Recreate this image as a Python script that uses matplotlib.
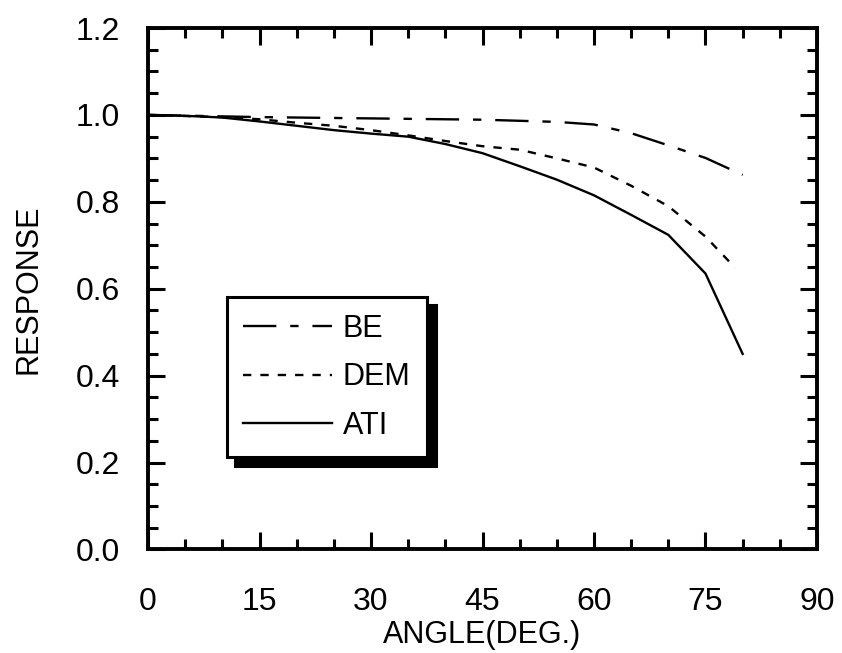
import matplotlib
matplotlib.use("Agg")
from matplotlib import pyplot as plt
from matplotlib.ticker import MultipleLocator

# Data
angle_be = [0, 15, 30, 45, 55, 60, 65, 70, 75, 80]
resp_be = [1.0, 0.995, 0.992, 0.989, 0.984, 0.978, 0.958, 0.930, 0.901, 0.862]

angle_dem = [0, 10, 15, 20, 25, 30, 35, 40, 45, 50, 55, 60, 65, 70, 75, 79]
resp_dem = [1.0, 0.995, 0.990, 0.982, 0.975, 0.965, 0.953, 0.940, 0.928, 0.920,
            0.900, 0.879, 0.837, 0.790, 0.720, 0.648]

angle_ati = [0, 5, 10, 15, 20, 25, 30, 35, 40, 45, 50, 55, 60, 65, 70, 75, 80]
resp_ati = [1.0, 0.998, 0.994, 0.985, 0.975, 0.965, 0.957, 0.950, 0.933, 0.912,
            0.882, 0.851, 0.815, 0.770, 0.724, 0.635, 0.45]

x_ticks = [0, 15, 30, 45, 60, 75, 90]
y_ticks = [0.0, 0.2, 0.4, 0.6, 0.8, 1.0, 1.2]

plt.rcParams["font.family"] = ["Liberation Sans", "DejaVu Sans"]
plt.rcParams["lines.scale_dashes"] = False

fig = plt.figure(figsize=(8.42, 6.53), dpi=100)
ax = fig.add_axes([0.1758, 0.1585, 0.7945, 0.7986])

ax.plot(angle_be, resp_be, color="black", linewidth=1.7,
        linestyle=(0, (24, 10, 6, 10)), label="BE")
ax.plot(angle_dem, resp_dem, color="black", linewidth=1.7,
        linestyle=(0, (6, 6.5)), label="DEM")
ax.plot(angle_ati, resp_ati, color="black", linewidth=1.7, label="ATI")

ax.set_xlim(0, 90)
ax.set_ylim(0, 1.2)
ax.set_xticks(x_ticks)
ax.set_xticklabels([str(v) for v in x_ticks])
ax.set_yticks(y_ticks)
ax.set_yticklabels(["%.1f" % v for v in y_ticks])
ax.xaxis.set_minor_locator(MultipleLocator(5))
ax.yaxis.set_minor_locator(MultipleLocator(0.05))

ax.tick_params(which="both", direction="in", top=True, right=True, width=2.2,
               labelsize=23, color="black")
ax.tick_params(which="major", length=12.5)
ax.tick_params(which="minor", length=7)
ax.tick_params(axis="x", which="major", pad=27)
ax.tick_params(axis="y", which="major", pad=20)
for s in ax.spines.values():
    s.set_linewidth(2.8)

ax.set_xlabel("ANGLE(DEG.)", fontsize=22)
ax.set_ylabel("RESPONSE", fontsize=22)
ax.xaxis.set_label_coords(0.5, -0.135)
ax.yaxis.set_label_coords(-0.156, 0.5)

leg = ax.legend(loc="upper left", bbox_to_anchor=(0.1176, 0.484),
                borderaxespad=0, fancybox=False, frameon=True,
                shadow={"color": "black", "alpha": 1.0, "ox": 6, "oy": -6},
                edgecolor="black", framealpha=1, handlelength=2.9,
                handletextpad=0.35, labelspacing=0.6, borderpad=0.55,
                prop={"size": 22})
leg.get_frame().set_linewidth(2.2)

fig.savefig("out.png", dpi=100)
